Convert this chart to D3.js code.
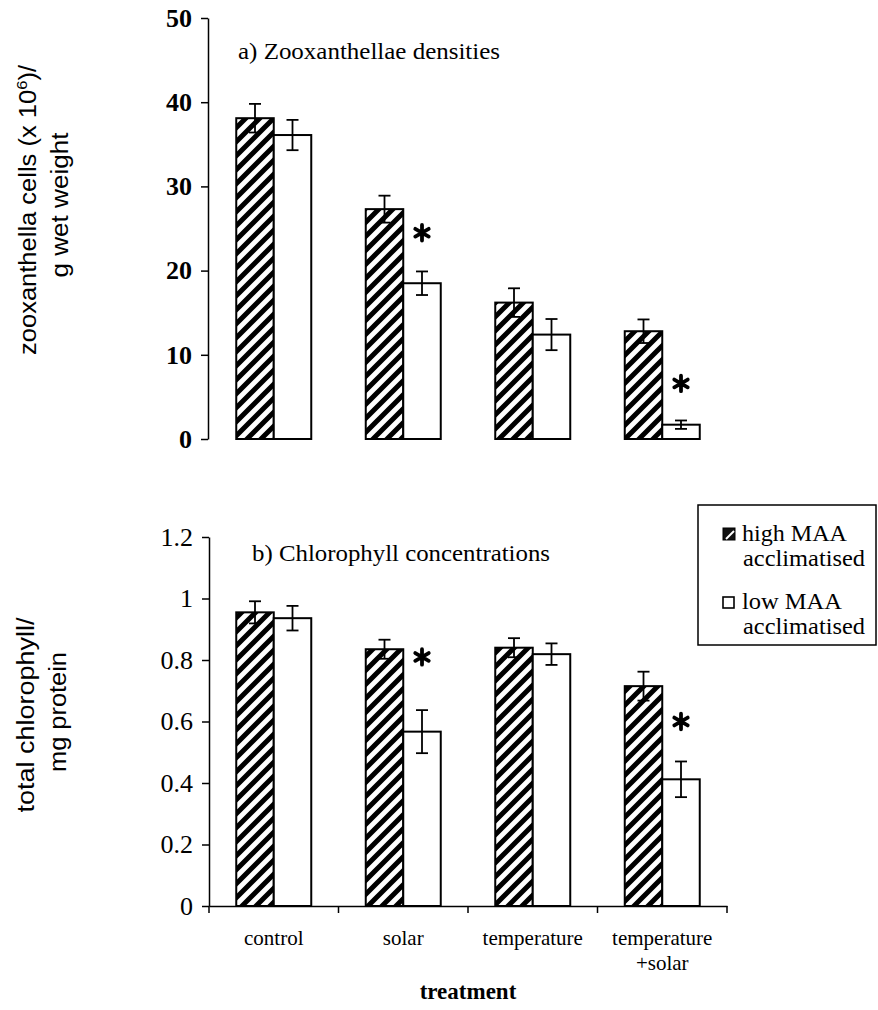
<!DOCTYPE html>
<html><head><meta charset="utf-8">
<script src="https://cdn.jsdelivr.net/npm/d3@7"></script>
<style>
body{margin:0;background:#fff}
text{font-family:"Liberation Serif","Times New Roman",serif;fill:#000}
.sans{font-family:"Liberation Sans",Arial,sans-serif}
</style>
</head><body><svg id="c" width="878" height="1010"></svg>
<script>
// ---- data ----
const categories = ["control", "solar", "temperature", "temperature\n+solar"];
const series = ["high MAA acclimatised", "low MAA acclimatised"];

const densityHigh    = [38.1, 27.3, 16.2, 12.8];
const densityHighErr = [1.7, 1.6, 1.7, 1.4];
const densityLow     = [36.1, 18.5, 12.4, 1.7];
const densityLowErr  = [1.8, 1.4, 1.85, 0.5];
const densityStars   = [null, 24.5, null, 6.6];
const densityTicks   = [0, 10, 20, 30, 40, 50];

const chlHigh    = [0.955, 0.835, 0.84, 0.715];
const chlHighErr = [0.036, 0.031, 0.031, 0.047];
const chlLow     = [0.936, 0.567, 0.819, 0.412];
const chlLowErr  = [0.04, 0.07, 0.035, 0.058];
const chlStars   = [null, 0.81, null, 0.60];
const chlTicks   = [0, 0.2, 0.4, 0.6, 0.8, 1, 1.2];

// ---- setup ----
const svg = d3.select("#c");
svg.append("rect").attr("width", 878).attr("height", 1010).attr("fill", "#fff");
const defs = svg.append("defs");
const pat = defs.append("pattern").attr("id", "hatch")
  .attr("patternUnits", "userSpaceOnUse").attr("width", 14).attr("height", 14);
pat.append("rect").attr("width", 14).attr("height", 14).attr("fill", "#fff");
pat.append("path").attr("d", "M-3.5,3.5 L3.5,-3.5 M0,14 L14,0 M10.5,17.5 L17.5,10.5")
  .attr("stroke", "#000").attr("stroke-width", 5);

const x = d3.scaleBand().domain(categories).range([209, 727]);
const inner = d3.scaleBand().domain(series).range([-37.5, 37.5]);
const center = c => x(c) + x.bandwidth() / 2;

function panel(opts) {
  const { y, high, highErr, low, lowErr, stars, ticks, axisX, bold, fmt } = opts;
  const g = svg.append("g");
  const ax = g.append("g").attr("transform", `translate(${axisX},0)`)
    .call(d3.axisLeft(y).tickValues(ticks).tickSize(7).tickSizeOuter(0).tickPadding(9).tickFormat(fmt));
  ax.select(".domain").attr("stroke", "#000").attr("stroke-width", 1.5);
  ax.selectAll(".tick line").attr("stroke", "#000").attr("stroke-width", 1.5);
  ax.selectAll(".tick text").attr("font-family", "Liberation Serif, serif")
    .attr("font-size", 26).attr("font-weight", bold ? "bold" : "normal").attr("fill", "#000");

  const rows = categories.map((c, i) => ({ c, i }));
  const sets = [
    { s: series[0], vals: high, errs: highErr, fill: "url(#hatch)" },
    { s: series[1], vals: low, errs: lowErr, fill: "#fff" }
  ];
  sets.forEach(set => {
    g.selectAll(null).data(rows).enter().append("rect")
      .attr("x", d => center(d.c) + inner(set.s))
      .attr("width", inner.bandwidth())
      .attr("y", d => y(set.vals[d.i]))
      .attr("height", d => y(0) - y(set.vals[d.i]))
      .attr("fill", set.fill).attr("stroke", "#000").attr("stroke-width", 2);
  });
  sets.forEach(set => {
    const eg = g.selectAll(null).data(rows).enter().append("g")
      .attr("transform", d => `translate(${center(d.c) + inner(set.s) + inner.bandwidth() / 2},0)`);
    eg.append("line").attr("y1", d => y(set.vals[d.i] - set.errs[d.i])).attr("y2", d => y(set.vals[d.i] + set.errs[d.i]))
      .attr("stroke", "#000").attr("stroke-width", 1.8);
    eg.append("line").attr("x1", -6).attr("x2", 6)
      .attr("y1", d => y(set.vals[d.i] + set.errs[d.i])).attr("y2", d => y(set.vals[d.i] + set.errs[d.i]))
      .attr("stroke", "#000").attr("stroke-width", 1.8);
    eg.append("line").attr("x1", -6).attr("x2", 6)
      .attr("y1", d => y(set.vals[d.i] - set.errs[d.i])).attr("y2", d => y(set.vals[d.i] - set.errs[d.i]))
      .attr("stroke", "#000").attr("stroke-width", 1.8);
  });
  g.selectAll(null).data(rows.filter(d => stars[d.i] != null)).enter().append("path")
    .attr("d", d3.symbol(d3.symbolAsterisk, 170)())
    .attr("transform", d => `translate(${center(d.c) + inner(series[1]) + inner.bandwidth() / 2},${y(stars[d.i])})`)
    .attr("stroke", "#000").attr("stroke-width", 3.8).attr("stroke-linecap", "round").attr("fill", "none");
  return g;
}

// ---- panel a ----
const yA = d3.scaleLinear().domain([0, 50]).range([439, 18]);
panel({ y: yA, high: densityHigh, highErr: densityHighErr, low: densityLow, lowErr: densityLowErr,
  stars: densityStars, ticks: densityTicks, axisX: 208, bold: true, fmt: d3.format("d") });
svg.append("text").attr("x", 238).attr("y", 59).attr("font-size", 24)
  .attr("textLength", 262).attr("lengthAdjust", "spacingAndGlyphs").text("a) Zooxanthellae densities");

const la1 = svg.append("text").attr("class", "sans").attr("font-size", 23).attr("text-anchor", "middle")
  .attr("transform", "translate(36,210) rotate(-90)").attr("textLength", 290).attr("lengthAdjust", "spacingAndGlyphs");
la1.append("tspan").text("zooxanthella cells (x 10");
la1.append("tspan").attr("font-size", 15).attr("dy", -9).text("6");
la1.append("tspan").attr("dy", 9).text(")/");
svg.append("text").attr("class", "sans").attr("font-size", 23).attr("text-anchor", "middle")
  .attr("transform", "translate(68,205) rotate(-90)").attr("textLength", 145).attr("lengthAdjust", "spacingAndGlyphs")
  .text("g wet weight");

// ---- panel b ----
const yB = d3.scaleLinear().domain([0, 1.2]).range([906, 537]);
panel({ y: yB, high: chlHigh, highErr: chlHighErr, low: chlLow, lowErr: chlLowErr,
  stars: chlStars, ticks: chlTicks, axisX: 209, bold: false, fmt: d => String(d) });
svg.append("text").attr("x", 252).attr("y", 561).attr("font-size", 24)
  .attr("textLength", 298).attr("lengthAdjust", "spacingAndGlyphs").text("b) Chlorophyll concentrations");

svg.append("text").attr("class", "sans").attr("font-size", 23).attr("text-anchor", "middle")
  .attr("transform", "translate(34,715) rotate(-90)").attr("textLength", 195).attr("lengthAdjust", "spacingAndGlyphs")
  .text("total chlorophyll/");
svg.append("text").attr("class", "sans").attr("font-size", 23).attr("text-anchor", "middle")
  .attr("transform", "translate(66,712) rotate(-90)").attr("textLength", 120).attr("lengthAdjust", "spacingAndGlyphs")
  .text("mg protein");

// x axis (bottom panel)
const xa = svg.append("g").attr("transform", `translate(0,${yB(0)})`)
  .call(d3.axisBottom(x).tickSize(0).tickSizeOuter(0).tickFormat(""));
xa.select(".domain").attr("stroke", "#000").attr("stroke-width", 1.5);
const bounds = categories.map(c => x(c)).concat([x.range()[1]]);
xa.selectAll(null).data(bounds).enter().append("line")
  .attr("x1", d => d).attr("x2", d => d).attr("y1", 0).attr("y2", 7)
  .attr("stroke", "#000").attr("stroke-width", 1.5);
categories.forEach(c => {
  const t = svg.append("text").attr("font-size", 21).attr("text-anchor", "middle")
    .attr("x", center(c)).attr("y", 945);
  c.split("\n").forEach((line, k) => {
    t.append("tspan").attr("x", center(c)).attr("dy", k === 0 ? 0 : 25).text(line);
  });
});
svg.append("text").attr("x", (x.range()[0] + x.range()[1]) / 2).attr("y", 999)
  .attr("text-anchor", "middle").attr("font-size", 23).attr("font-weight", "bold").text("treatment");

// ---- legend ----
const lg = svg.append("g");
lg.append("rect").attr("x", 698).attr("y", 505).attr("width", 178).attr("height", 140)
  .attr("fill", "#fff").attr("stroke", "#000").attr("stroke-width", 1.5);
lg.append("rect").attr("x", 723).attr("y", 528).attr("width", 12).attr("height", 12).attr("fill", "#111").attr("stroke", "#000");
lg.append("path").attr("d", "M726,539 L734,531").attr("stroke", "#fff").attr("stroke-width", 2);
lg.append("rect").attr("x", 723).attr("y", 597).attr("width", 11).attr("height", 11).attr("fill", "#fff").attr("stroke", "#000").attr("stroke-width", 1.6);
const legendLines = [
  { t: "high MAA", x: 742, y: 541, w: 105 },
  { t: "acclimatised", x: 743, y: 566, w: 122 },
  { t: "low MAA", x: 742, y: 609, w: 100 },
  { t: "acclimatised", x: 743, y: 634, w: 122 }
];
legendLines.forEach(l => {
  lg.append("text").attr("x", l.x).attr("y", l.y).attr("font-size", 24)
    .attr("textLength", l.w).attr("lengthAdjust", "spacingAndGlyphs").text(l.t);
});
</script>
</body></html>
